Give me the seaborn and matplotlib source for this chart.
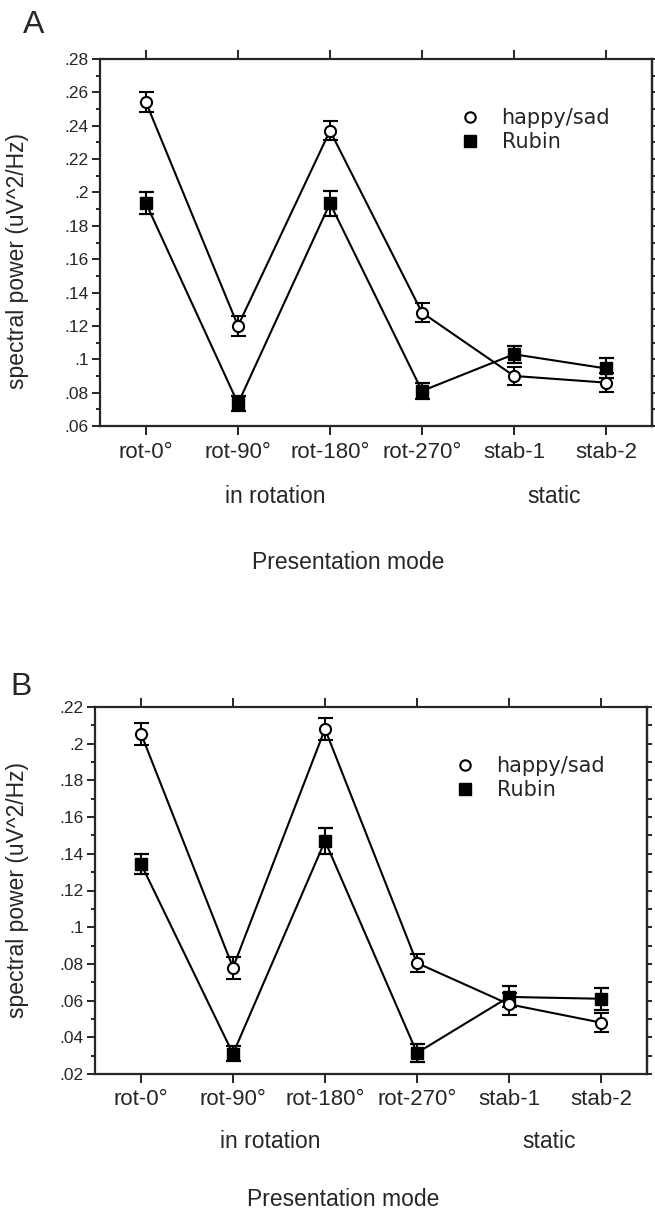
import numpy as np
import pandas as pd
import matplotlib
matplotlib.use("Agg")
import matplotlib.pyplot as plt
import matplotlib.transforms as mtransforms
from matplotlib.lines import Line2D
from matplotlib.ticker import MultipleLocator, FuncFormatter
import seaborn as sns

# data
modes = ["rot-0°", "rot-90°", "rot-180°", "rot-270°", "stab-1", "stab-2"]

happy_a = [0.254, 0.120, 0.237, 0.128, 0.090, 0.086]
happy_a_err = [0.006, 0.006, 0.0058, 0.0057, 0.0055, 0.0056]
rubin_a = [0.1935, 0.0735, 0.1935, 0.081, 0.103, 0.0945]
rubin_a_err = [0.0065, 0.0045, 0.0075, 0.005, 0.0052, 0.006]

happy_b = [0.2055, 0.078, 0.208, 0.0805, 0.058, 0.048]
happy_b_err = [0.006, 0.006, 0.006, 0.005, 0.006, 0.005]
rubin_b = [0.1345, 0.031, 0.147, 0.0315, 0.062, 0.061]
rubin_b_err = [0.0055, 0.004, 0.007, 0.005, 0.0057, 0.006]

sns.set_style("ticks")
plt.rcParams['font.family'] = ['Liberation Sans', 'DejaVu Sans']

fig = plt.figure(figsize=(6.55, 12.16), dpi=100)
W, H = 655, 1216


def frac(left, top, right, bottom):
    return [left / W, (H - bottom) / H, (right - left) / W, (bottom - top) / H]


def fmt_tick(v, pos):
    s = f"{v:.2f}".lstrip("0").rstrip("0")
    return s


def panel(ax, happy, happy_err, rubin, rubin_err, ylim, letter, letter_xy,
          ylab_x, ylab_y, grp_y, pres_y, grp_x, pres_x, leg_anchor, pad):
    df = pd.DataFrame({
        "mode": modes * 2,
        "value": happy + rubin,
        "stim": ["happy/sad"] * len(modes) + ["Rubin"] * len(modes),
    })
    sns.lineplot(data=df, x="mode", y="value", hue="stim", sort=False,
                 palette={"happy/sad": "black", "Rubin": "black"},
                 linewidth=1.5, legend=False, ax=ax, zorder=1)
    ax.errorbar(modes, rubin, yerr=rubin_err, fmt="s", color="black",
                ms=9, capsize=5.4, capthick=1.6, elinewidth=1.5, zorder=3)
    ax.errorbar(modes, happy, yerr=happy_err, fmt="o", color="black",
                mfc="white", mec="black", mew=1.5, ms=8, capsize=5.4,
                capthick=1.6, elinewidth=1.5, zorder=4)

    ax.set_xlim(-0.5, 5.5)
    ax.set_ylim(*ylim)
    ax.yaxis.set_major_locator(MultipleLocator(0.02))
    ax.yaxis.set_minor_locator(MultipleLocator(0.01))
    ax.yaxis.set_major_formatter(FuncFormatter(fmt_tick))

    for sp in ax.spines.values():
        sp.set_linewidth(1.6)
        sp.set_visible(True)
    ax.tick_params(axis="x", which="major", direction="out", length=6.5,
                   width=1.4, top=True, bottom=True, labelsize=16, pad=pad)
    ax.tick_params(axis="y", which="major", direction="out", length=6,
                   width=1.4, left=True, right=False, labelsize=12.5, pad=2)
    ax.tick_params(axis="y", which="minor", direction="out", length=3,
                   width=1.4, left=True, right=False)

    sec = ax.secondary_yaxis("right")
    sec.yaxis.set_major_locator(MultipleLocator(0.01))
    sec.tick_params(direction="out", length=3.5, width=1.4, labelright=False)
    sec.spines["right"].set_linewidth(1.6)

    ax.set_xlabel("")
    ax.set_ylabel("spectral power (uV^2/Hz)", fontsize=16.5)
    ax.yaxis.set_label_coords(ylab_x, ylab_y)

    trans = mtransforms.blended_transform_factory(ax.transData, ax.transAxes)
    ax.text(grp_x[0], grp_y, "in rotation", transform=trans, ha="center",
            va="center", fontsize=16.5)
    ax.text(grp_x[1], grp_y, "static", transform=trans, ha="center",
            va="center", fontsize=16.5)
    ax.text(pres_x, pres_y, "Presentation mode", transform=trans,
            ha="center", va="center", fontsize=16.5)

    fig.text(letter_xy[0] / W, 1 - letter_xy[1] / H, letter, fontsize=23,
             ha="left", va="baseline")

    handles = [
        Line2D([], [], ls="none", marker="o", mfc="white", mec="black",
               mew=1.5, ms=7.5, color="black"),
        Line2D([], [], ls="none", marker="s", color="black", ms=8),
    ]
    ax.legend(handles, ["happy/sad", "Rubin"], loc="upper left",
              bbox_to_anchor=leg_anchor, frameon=False, handlelength=1.0,
              handletextpad=1.0, borderpad=0, borderaxespad=0,
              labelspacing=0.2, prop={"family": "DejaVu Sans", "size": 15})


ax_a = fig.add_axes(frac(100, 59, 652, 426))
panel(ax_a, happy_a, happy_a_err, rubin_a, rubin_a_err, (0.06, 0.28), "A",
      (23, 33), -0.128, 0.45, -0.193, -0.371, (1.41, 4.44), 2.2,
      (0.652, 0.866), 5)

ax_b = fig.add_axes(frac(95, 707, 647, 1074))
panel(ax_b, happy_b, happy_b_err, rubin_b, rubin_b_err, (0.02, 0.22), "B",
      (10, 695), -0.12, 0.5, -0.183, -0.343, (1.41, 4.44), 2.2,
      (0.652, 0.866), 4.5)

fig.savefig("out.png", dpi=100)
